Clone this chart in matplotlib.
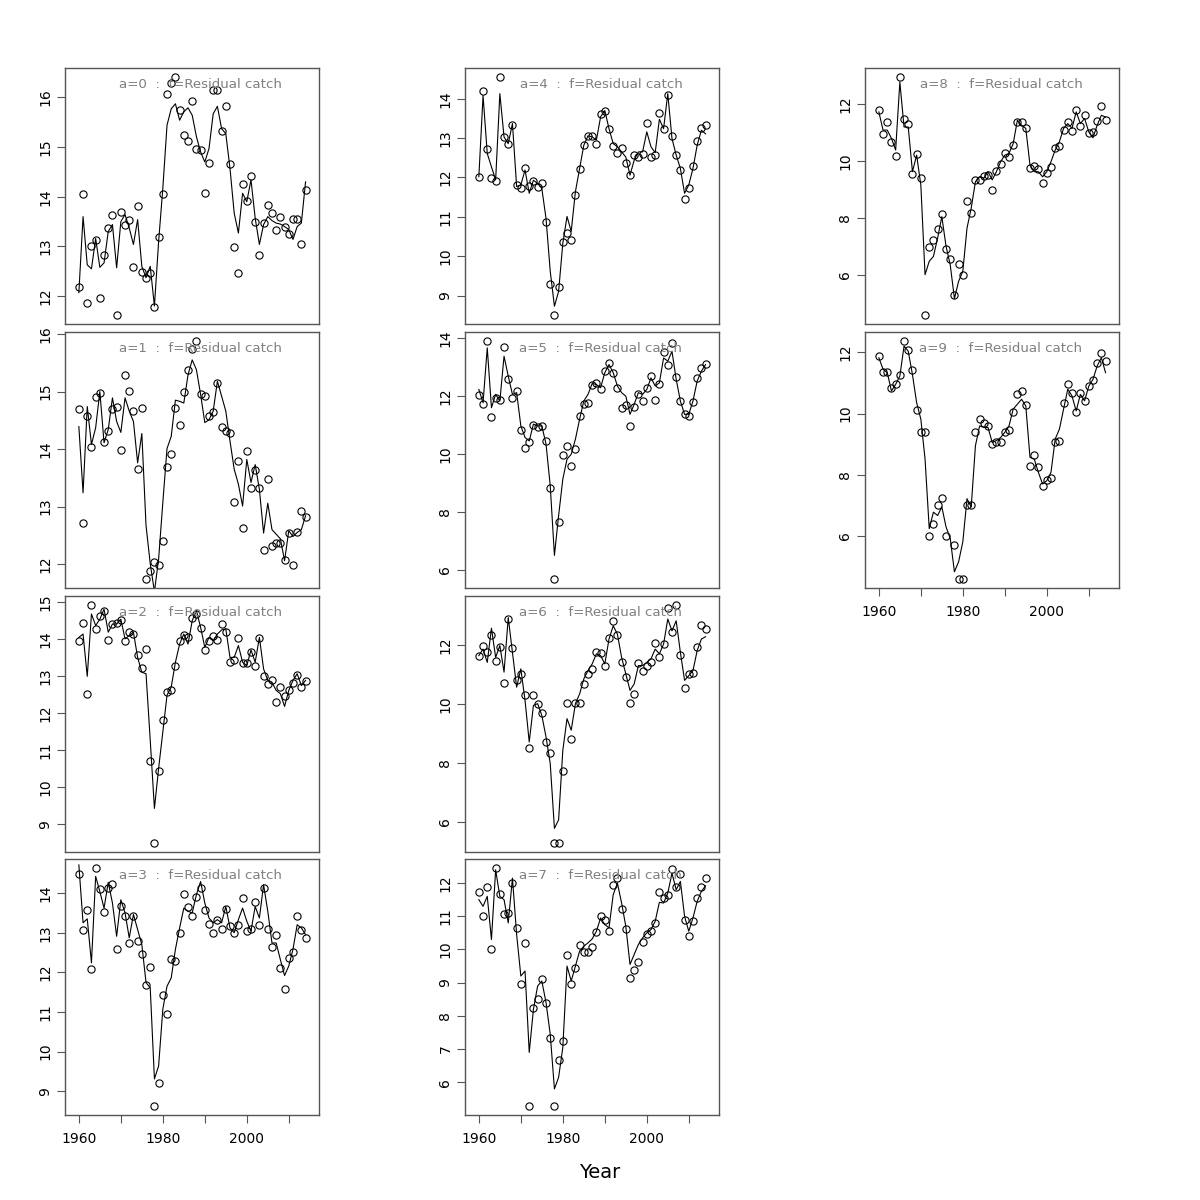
import numpy as np
import matplotlib
matplotlib.use("Agg")
import matplotlib.pyplot as plt

years = list(range(1960, 2015))

obs_a0 = [12.18, 14.05, 11.87, 13.00, 13.12, 11.97, 12.83, 13.38, 13.64, 11.63,
          13.70, 13.44, 13.53, 12.58, 13.82, 12.48, 12.37, 12.46, 11.78, 13.20,
          14.05, 16.07, 16.29, 16.40, 15.75, 15.25, 15.13, 15.92, 14.96, 14.94,
          14.08, 14.68, 16.15, 16.14, 15.32, 15.82, 14.65, 12.98, 12.47, 14.26,
          13.92, 14.42, 13.50, 12.82, 13.48, 13.84, 13.68, 13.34, 13.59, 13.39,
          13.26, 13.56, 13.56, 13.04, 14.14]
fit_a0 = [12.07, 13.60, 12.63, 12.55, 13.16, 12.58, 12.67, 13.30, 13.44, 12.57,
          13.50, 13.64, 13.37, 13.04, 13.54, 12.60, 12.37, 12.60, 11.80, 13.10,
          14.17, 15.44, 15.77, 15.87, 15.54, 15.71, 15.79, 15.64, 15.21, 14.90,
          14.70, 14.97, 15.67, 15.82, 15.37, 15.27, 14.57, 13.67, 13.27, 14.07,
          13.90, 14.34, 13.57, 13.04, 13.44, 13.60, 13.52, 13.47, 13.45, 13.40,
          13.34, 13.14, 13.40, 13.47, 14.30]

obs_a1 = [14.69, 12.72, 14.57, 14.04, 14.90, 14.97, 14.13, 14.32, 14.69, 14.73,
          13.99, 15.29, 15.01, 14.67, 13.65, 14.71, 11.75, 11.88, 12.03, 11.98,
          12.41, 13.68, 13.92, 14.71, 14.41, 14.99, 15.38, 15.74, 15.87, 14.96,
          14.92, 14.57, 14.64, 15.15, 14.39, 14.32, 14.28, 13.08, 13.79, 12.63,
          13.97, 13.33, 13.64, 13.33, 12.24, 13.48, 12.31, 12.37, 12.37, 12.08,
          12.54, 11.98, 12.55, 12.93, 12.82]
fit_a1 = [14.39, 13.24, 14.74, 14.08, 14.37, 15.00, 14.11, 14.34, 14.89, 14.48,
          14.29, 14.89, 14.66, 14.48, 13.76, 14.27, 12.67, 12.01, 11.52, 12.09,
          13.07, 14.01, 14.22, 14.85, 14.83, 14.80, 15.29, 15.55, 15.38, 14.95,
          14.46, 14.51, 14.66, 15.18, 14.92, 14.66, 14.14, 13.65, 13.39, 13.01,
          13.82, 13.42, 13.73, 13.30, 12.54, 13.06, 12.60, 12.52, 12.44, 12.06,
          12.58, 12.48, 12.55, 12.60, 12.84]

obs_a2 = [13.95, 14.44, 12.51, 14.90, 14.26, 14.62, 14.76, 13.98, 14.40, 14.44,
          14.51, 13.95, 14.19, 14.13, 13.57, 13.21, 13.72, 10.72, 8.51, 10.45,
          11.81, 12.56, 12.62, 13.26, 13.95, 14.10, 14.05, 14.57, 14.67, 14.28,
          13.71, 13.93, 14.07, 13.98, 14.39, 14.19, 13.38, 13.44, 14.02, 13.34,
          13.34, 13.65, 13.27, 14.02, 13.01, 12.78, 12.90, 12.31, 12.71, 12.47,
          12.61, 12.82, 13.03, 12.70, 12.86]
fit_a2 = [14.04, 14.13, 12.99, 14.67, 14.36, 14.53, 14.80, 14.18, 14.40, 14.40,
          14.53, 14.00, 14.09, 14.18, 13.50, 13.10, 13.06, 11.27, 9.43, 10.51,
          11.49, 12.48, 12.70, 13.37, 13.86, 14.13, 13.86, 14.49, 14.76, 14.31,
          13.77, 14.04, 13.95, 14.13, 14.24, 14.27, 13.50, 13.50, 13.82, 13.37,
          13.28, 13.70, 13.37, 14.04, 13.19, 12.88, 12.83, 12.61, 12.52, 12.18,
          12.61, 12.88, 13.06, 12.74, 12.88]

obs_a3 = [14.49, 13.08, 13.58, 12.08, 14.62, 14.10, 13.51, 14.13, 14.22, 12.60,
          13.68, 13.41, 12.74, 13.41, 12.80, 12.47, 11.67, 12.13, 8.64, 9.21,
          11.43, 10.94, 12.34, 12.28, 12.99, 13.98, 13.64, 13.41, 13.91, 14.12,
          13.56, 13.23, 12.99, 13.31, 13.10, 13.61, 13.17, 13.00, 13.20, 13.87,
          13.04, 13.10, 13.78, 13.19, 14.13, 13.09, 12.63, 12.94, 12.12, 11.57,
          12.37, 12.52, 13.41, 13.08, 12.86]
fit_a3 = [14.71, 13.25, 13.35, 12.24, 14.42, 14.04, 13.62, 14.27, 13.75, 12.91,
          13.83, 13.50, 12.87, 13.46, 13.08, 12.70, 11.74, 11.61, 9.31, 9.64,
          11.07, 11.65, 11.86, 12.58, 13.12, 13.62, 13.54, 13.50, 13.96, 14.29,
          13.75, 13.37, 13.25, 13.33, 13.25, 13.66, 13.12, 13.00, 13.33, 13.62,
          13.29, 13.04, 13.66, 13.37, 14.21, 13.54, 12.74, 12.74, 12.32, 11.92,
          12.16, 12.58, 13.20, 13.12, 12.95]

obs_a4 = [12.02, 14.20, 12.73, 11.98, 11.92, 14.54, 13.02, 12.84, 13.34, 11.81,
          11.73, 12.25, 11.78, 11.92, 11.76, 11.85, 10.86, 9.29, 8.52, 9.21,
          10.37, 10.58, 10.42, 11.56, 12.22, 12.82, 13.06, 13.06, 12.86, 13.60,
          13.68, 13.22, 12.80, 12.63, 12.76, 12.36, 12.06, 12.57, 12.53, 12.59,
          13.38, 12.53, 12.58, 13.64, 13.22, 14.10, 13.05, 12.57, 12.20, 11.45,
          11.74, 12.30, 12.92, 13.26, 13.34]
fit_a4 = [12.02, 14.08, 12.61, 12.27, 11.94, 14.13, 13.03, 12.86, 13.37, 11.77,
          11.81, 12.19, 11.60, 11.93, 11.85, 11.72, 10.96, 9.62, 8.73, 9.11,
          10.33, 11.01, 10.63, 11.64, 12.23, 12.82, 13.06, 13.03, 12.95, 13.54,
          13.70, 13.24, 12.86, 12.78, 12.65, 12.52, 12.06, 12.44, 12.65, 12.65,
          13.16, 12.78, 12.63, 13.48, 13.24, 14.13, 12.99, 12.57, 12.23, 11.60,
          11.81, 12.23, 12.82, 13.20, 13.11]

obs_a5 = [12.03, 11.72, 13.89, 11.29, 11.92, 11.88, 13.69, 12.60, 11.94, 12.16,
          10.82, 10.19, 10.41, 10.99, 10.93, 10.97, 10.44, 8.83, 5.69, 7.64,
          9.98, 10.26, 9.57, 10.17, 11.31, 11.73, 11.77, 12.40, 12.44, 12.25,
          12.86, 13.13, 12.79, 12.28, 11.60, 11.69, 10.97, 11.61, 12.07, 11.82,
          12.28, 12.68, 11.86, 12.42, 13.53, 13.08, 13.83, 12.65, 11.83, 11.37,
          11.32, 11.78, 12.63, 12.96, 13.10]
fit_a5 = [12.23, 11.77, 13.67, 11.60, 12.06, 11.83, 13.38, 12.69, 12.06, 12.12,
          10.97, 10.57, 10.45, 11.03, 10.97, 10.97, 10.34, 8.90, 6.49, 7.87,
          9.13, 9.82, 9.99, 10.51, 11.20, 11.83, 12.06, 12.44, 12.40, 12.29,
          12.81, 13.09, 12.81, 12.35, 12.12, 12.00, 11.37, 11.72, 12.12, 12.06,
          12.23, 12.63, 12.35, 12.46, 13.32, 13.21, 13.55, 12.58, 11.83, 11.37,
          11.37, 11.83, 12.52, 12.86, 13.09]

obs_a6 = [11.62, 11.98, 11.75, 12.34, 11.45, 11.92, 10.71, 12.87, 11.89, 10.82,
          11.02, 10.32, 8.52, 10.32, 10.01, 9.69, 8.71, 8.32, 5.30, 5.30,
          7.74, 10.03, 8.82, 10.03, 10.03, 10.67, 11.03, 11.20, 11.76, 11.73,
          11.29, 12.23, 12.82, 12.33, 11.43, 10.93, 10.03, 10.34, 11.40, 11.13,
          11.30, 11.43, 12.06, 11.58, 12.02, 13.25, 12.43, 13.34, 11.67, 10.55,
          11.02, 11.04, 11.93, 12.69, 12.55]
fit_a6 = [11.64, 11.86, 11.41, 12.57, 11.58, 11.98, 11.08, 12.93, 11.75, 10.57,
          11.19, 10.12, 8.71, 9.95, 10.01, 9.61, 8.88, 7.98, 5.78, 6.07,
          8.43, 9.50, 9.11, 10.01, 10.34, 10.85, 11.13, 11.36, 11.70, 11.64,
          11.36, 12.20, 12.65, 12.37, 11.58, 11.02, 10.46, 10.68, 11.30, 11.30,
          11.41, 11.53, 11.86, 11.70, 12.03, 12.88, 12.48, 12.82, 11.75, 10.80,
          10.96, 11.13, 11.81, 12.20, 12.28]

obs_a7 = [11.73, 11.02, 11.87, 10.01, 12.44, 11.66, 11.07, 11.11, 12.01, 10.65,
          8.97, 10.19, 5.30, 8.23, 8.52, 9.11, 8.40, 7.32, 5.30, 6.68,
          7.24, 9.83, 8.96, 9.45, 10.13, 9.92, 9.92, 10.08, 10.54, 11.02,
          10.89, 10.57, 11.93, 12.15, 11.23, 10.63, 9.14, 9.38, 9.63, 10.24,
          10.47, 10.55, 10.79, 11.72, 11.55, 11.64, 12.42, 11.89, 12.27, 10.89,
          10.41, 10.85, 11.56, 11.88, 12.16]
fit_a7 = [11.50, 11.30, 11.60, 10.30, 12.40, 11.60, 11.50, 10.80, 12.15, 10.45,
          9.20, 9.35, 6.90, 8.20, 8.90, 9.05, 8.40, 7.45, 5.80, 6.15,
          7.05, 9.50, 9.05, 9.50, 9.95, 10.10, 10.20, 10.32, 10.55, 10.95,
          10.75, 10.65, 11.65, 12.00, 11.40, 10.70, 9.55, 9.85, 10.15, 10.35,
          10.50, 10.60, 10.85, 11.42, 11.40, 11.70, 12.30, 11.80, 12.05, 11.00,
          10.55, 10.95, 11.45, 11.75, 11.92]

obs_a8 = [11.77, 10.93, 11.36, 10.65, 10.17, 12.93, 11.46, 11.30, 9.53, 10.23,
          9.39, 4.60, 6.99, 7.23, 7.59, 8.13, 6.89, 6.54, 5.28, 6.39,
          5.98, 8.60, 8.18, 9.32, 9.32, 9.47, 9.50, 8.98, 9.63, 9.88,
          10.27, 10.13, 10.56, 11.37, 11.36, 11.14, 9.75, 9.83, 9.71, 9.22,
          9.58, 9.78, 10.46, 10.53, 11.09, 11.37, 11.04, 11.80, 11.22, 11.60,
          10.98, 11.01, 11.40, 11.93, 11.44]
fit_a8 = [11.72, 11.08, 11.08, 10.79, 10.38, 12.77, 11.19, 11.19, 9.62, 10.20,
          9.15, 6.00, 6.47, 6.64, 7.29, 8.04, 7.00, 6.35, 5.16, 5.77,
          6.12, 7.64, 8.34, 9.27, 9.44, 9.39, 9.62, 9.33, 9.62, 9.97,
          10.20, 10.26, 10.61, 11.43, 11.25, 11.14, 9.85, 9.62, 9.62, 9.44,
          9.62, 9.97, 10.38, 10.67, 11.14, 11.31, 11.14, 11.72, 11.31, 11.49,
          11.02, 10.81, 11.25, 11.60, 11.54]

obs_a9 = [11.87, 11.37, 11.37, 10.84, 10.96, 11.25, 12.36, 12.07, 11.43, 10.12,
          9.41, 9.41, 6.00, 6.40, 7.00, 7.24, 6.00, np.nan, 5.72, 4.61,
          4.61, 7.00, 7.00, 9.41, 9.82, 9.69, 9.60, 9.01, 9.06, 9.07,
          9.39, 9.46, 10.06, 10.63, 10.74, 10.29, 8.28, 8.66, 8.25, 7.63,
          7.84, 7.90, 9.08, 9.10, 10.36, 10.98, 10.69, 10.06, 10.67, 10.41,
          10.89, 11.10, 11.65, 11.99, 11.72]
fit_a9 = [11.83, 11.45, 11.34, 10.74, 10.96, 11.23, 12.21, 12.04, 11.28, 10.36,
          9.82, 8.52, 6.24, 6.78, 6.67, 6.95, 6.30, 5.92, 4.83, 5.16,
          5.81, 7.22, 6.95, 8.95, 9.60, 9.55, 9.55, 9.06, 9.12, 9.22,
          9.39, 9.60, 10.15, 10.31, 10.47, 10.25, 8.57, 8.52, 8.08, 7.70,
          7.81, 8.08, 9.17, 9.49, 10.15, 10.80, 10.58, 10.09, 10.63, 10.42,
          10.90, 11.12, 11.56, 11.83, 11.34]

yticks_by_age = [
    [12, 13, 14, 15, 16],
    [12, 13, 14, 15, 16],
    [9, 10, 11, 12, 13, 14, 15],
    [9, 10, 11, 12, 13, 14],
    [9, 10, 11, 12, 13, 14],
    [6, 8, 10, 12, 14],
    [6, 8, 10, 12],
    [6, 7, 8, 9, 10, 11, 12],
    [6, 8, 10, 12],
    [6, 8, 10, 12],
]
xtick_positions = [1960, 1970, 1980, 1990, 2000, 2010]
xtick_labels = ["1960", "", "1980", "", "2000", ""]
panel_title = "a={}  :  f=Residual catch"

obs_all = [obs_a0, obs_a1, obs_a2, obs_a3, obs_a4, obs_a5, obs_a6, obs_a7, obs_a8, obs_a9]
fit_all = [fit_a0, fit_a1, fit_a2, fit_a3, fit_a4, fit_a5, fit_a6, fit_a7, fit_a8, fit_a9]

plt.rcParams['font.family'] = ['DejaVu Sans']

W, H = 1200, 1200
fig = plt.figure(figsize=(12, 12), dpi=100)

col_left = [65, 465, 865]
row_top = [68, 332, 596, 859]
pw, ph = 254, 256
bottom_rows = {0: 3, 1: 3, 2: 1}

spine_col = '#555555'
for a in range(10):
    if a < 4:
        c, r = 0, a
    elif a < 8:
        c, r = 1, a - 4
    else:
        c, r = 2, a - 8
    left = col_left[c] / W
    bottom = 1 - (row_top[r] + ph) / H
    ax = fig.add_axes([left, bottom, pw / W, ph / H])
    obs = np.array(obs_all[a], dtype=float)
    fit = np.array(fit_all[a], dtype=float)
    ax.plot(years, obs, linestyle='none', marker='o', markersize=5.2,
            markerfacecolor='none', markeredgecolor='black', markeredgewidth=0.8)
    ax.plot(years, fit, color='black', linewidth=0.8)
    lo, hi = np.nanmin(obs), np.nanmax(obs)
    pad = 0.04 * (hi - lo)
    ax.set_ylim(lo - pad, hi + pad)
    ax.set_xlim(1956.7, 2017.2)
    ax.set_yticks(yticks_by_age[a])
    ax.set_yticklabels([str(v) for v in yticks_by_age[a]], rotation=90, va='center')
    ax.tick_params(axis='y', length=6, width=0.8, color=spine_col, labelsize=10, pad=3)
    if r == bottom_rows[c]:
        ax.set_xticks(xtick_positions)
        ax.set_xticklabels(xtick_labels)
        ax.tick_params(axis='x', length=6, width=0.8, color=spine_col, labelsize=10, pad=6)
    else:
        ax.set_xticks([])
    for s in ax.spines.values():
        s.set_color(spine_col)
        s.set_linewidth(1.0)
    ax.text(0.535, 0.935, panel_title.format(a), transform=ax.transAxes,
            ha='center', va='center', color='#808080', fontsize=9.6)

fig.text(600 / W, 1 - 1172 / H, "Year", ha='center', va='center', fontsize=14)

fig.savefig("out.png", dpi=100)
